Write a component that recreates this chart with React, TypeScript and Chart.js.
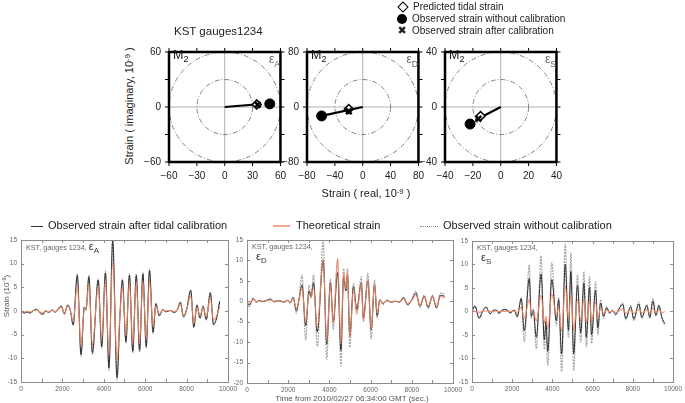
"use client"

import { useEffect, useRef } from "react"
import { Chart, registerables } from "chart.js"

Chart.register(...registerables)

const FONT = "'Liberation Sans', Arial, Helvetica, sans-serif"

// ---- top row: M2 phasors (real, imaginary) in 10^-9 strain
const COMPONENTS = ["A", "D", "S"]
const PHASOR_LIMITS = [60, 80, 40]
const PHASOR_STEPS = [30, 40, 20]
const PHASOR_RINGS = [[30, 60], [40, 80], [20, 40]]
const PREDICTED = [[34.5, 2.8], [-20, -3], [-14.5, -6.6]]
const OBSERVED_RAW = [[48.5, 3.4], [-59, -13], [-22, -12.4]]
const OBSERVED_CAL = [[35.5, 2.4], [-20, -6.2], [-16, -8.5]]
const PHASOR_LINE_END = [[36, 3], [-59, -13], [-18, -9.5]]

// ---- bottom row: strain time series (sec, 10^-9)
const TIME_A = [0, 150, 300, 450, 600, 750, 900, 1050, 1200, 1350, 1500, 1650, 1800, 1950, 2100, 2250, 2380, 2520, 2720, 2900, 3060, 3140, 3280, 3450, 3730, 3900, 4080, 4250, 4430, 4640, 4780, 4900, 5070, 5240, 5400, 5570, 5730, 5890, 6050, 6210, 6380, 6520, 6680, 6850, 7000, 7200, 7400, 7550, 7700, 7850, 8000, 8200, 8350, 8500, 8650, 8800, 8950, 9150, 9300, 9450, 9600]
const CAL_A = [0, -0.4, -0.2, -0.4, 0.1, 0.3, -0.3, -0.7, 0, -0.3, 0.2, -0.2, 0.4, 1.0, -0.6, 1.2, 0.2, -2.9, 7.5, -9.2, 0.8, 0.2, 7.2, -8.8, 6.5, -7.5, 8.0, -12.0, 14.8, -14.0, -1.0, 6.5, -6.5, 7.5, -8.5, 7.5, -8.3, 7.8, -7.5, 8.5, -4.5, 1.5, -1.0, 0.3, -0.2, 0.1, -0.3, 0.2, 1.8, -1.2, 0.2, 4.3, -3.4, 1.2, -1.5, 1.0, -1.8, 3.8, -2.8, -1.5, 2.0]
const THEORY_A = [0, -0.2, -0.1, -0.2, 0.1, 0.2, -0.2, -0.4, 0, -0.2, 0.1, -0.1, 0.3, 0.8, -0.4, 1.0, 0.1, -2.2, 5.5, -7.5, 0.6, 0.2, 5.8, -7.2, 5.2, -6.0, 6.5, -9.5, 10.5, -10.5, -0.8, 5.2, -5.2, 6.0, -7.0, 6.2, -6.8, 6.3, -6.0, 6.5, -3.2, 1.0, -0.6, 0.2, 0, 0.1, -0.1, 0.2, 1.5, -1.0, 0.3, 3.2, -2.6, 0.8, -1.0, 0.8, -1.2, 2.8, -2.0, -1.0, 0.8]
const RAW_A = [0, -0.5, -0.3, -0.5, 0.1, 0.4, -0.3, -0.8, 0, -0.4, 0.2, -0.3, 0.5, 1.1, -0.7, 1.3, 0.2, -3.1, 7.9, -9.6, 0.9, 0.2, 7.6, -9.3, 6.8, -7.9, 8.4, -12.6, 15.2, -14.6, -1.1, 6.8, -6.9, 7.9, -8.9, 7.9, -8.7, 8.2, -7.9, 8.9, -4.8, 1.6, -1.1, 0.3, -0.2, 0.1, -0.3, 0.2, 1.9, -1.3, 0.2, 4.5, -3.6, 1.3, -1.6, 1.1, -1.9, 4.0, -3.0, -1.6, 2.1]

const TIME_D = [0, 100, 300, 450, 600, 750, 900, 1150, 1300, 1500, 1650, 1800, 1950, 2100, 2240, 2400, 2520, 2670, 2850, 3010, 3110, 3230, 3410, 3700, 3870, 4050, 4190, 4400, 4560, 4690, 4800, 4880, 4990, 5170, 5330, 5550, 5650, 5870, 6030, 6190, 6320, 6450, 6600, 6800, 7000, 7200, 7400, 7600, 7800, 8000, 8200, 8400, 8600, 8800, 9000, 9200, 9400, 9600]
const CAL_D = [-0.3, -1.0, 0.6, -0.2, 0.2, -0.1, 0.1, 0.5, -0.1, 0.1, 0, -0.2, 0.2, -0.3, 0.9, -2.3, 0.3, 4.0, -6.0, 2.5, 1.0, 4.5, -7.5, 10.0, -10.5, 4.5, -5.0, 7.0, -12.0, 6.0, 2.5, 6.5, -8.5, 3.5, -2.0, 4.5, -4.0, 5.0, -7.0, 4.0, -3.5, 0.3, -0.6, 0.2, -0.2, 0, -0.2, 0.8, -0.8, 0.3, 2.0, -1.2, 1.2, -1.5, 1.2, -1.5, 1.5, 1.2]
const THEORY_D = [-0.2, -0.6, 0.4, -0.1, 0.1, 0, 0.1, 0.3, 0, 0.1, 0, -0.1, 0.2, -0.2, 0.7, -1.8, 0.2, 3.2, -5.2, 2.0, 0.8, 3.5, -6.5, 10.5, -10.0, 4.2, -5.5, 10.5, -10.5, 7.0, 3.0, 7.2, -9.0, 3.0, -3.2, 4.5, -5.0, 5.2, -7.0, 4.3, -3.0, 0.3, -0.5, 0.1, -0.1, 0, -0.1, 0.6, -0.6, 0.2, 1.6, -1.0, 1.0, -1.2, 1.0, -1.2, 1.2, 0.8]
const RAW_D = [-0.5, -1.3, 0.8, -0.3, 0.2, -0.1, 0.1, 0.6, -0.2, 0.1, 0, -0.3, 0.3, -0.4, 1.1, -3.0, 0.4, 6.4, -9.5, 4.0, 1.5, 6.5, -11.0, 14.6, -14.2, 5.5, -6.9, 10.4, -15.8, 8.0, 3.0, 8.0, -11.3, 4.3, -2.5, 6.0, -4.9, 6.8, -9.3, 5.2, -4.1, 0.5, -0.8, 0.3, -0.3, 0, -0.3, 1.0, -1.0, 0.5, 2.5, -1.5, 1.5, -1.8, 1.5, -1.8, 2.0, 1.8]

const TIME_S = [0, 150, 350, 550, 700, 900, 1050, 1200, 1350, 1500, 1700, 1900, 2100, 2250, 2450, 2600, 2850, 2950, 3050, 3200, 3440, 3600, 3680, 3770, 3970, 4200, 4310, 4460, 4640, 4800, 4920, 5060, 5250, 5410, 5570, 5690, 5850, 5950, 6150, 6260, 6400, 6550, 6700, 6850, 7000, 7150, 7300, 7500, 7650, 7900, 8050, 8300, 8450, 8700, 8850, 9000, 9150, 9300, 9450, 9600]
const CAL_S = [0, 1.2, -1.4, 0.2, 0.9, -0.5, 0.2, 0.3, -0.4, 0.3, 0.4, -0.3, 0.3, -1.1, 2.7, -4.1, 7.0, -1.0, 0.3, -5.5, 8.0, -6.0, -2.0, -8.5, 6.8, -2.0, 2.5, -9.0, 10.0, -4.0, 8.5, -9.0, 5.5, -4.5, 6.0, -5.5, 5.2, -5.0, 4.5, -3.5, 1.8, -1.0, 0.8, -0.3, 0.2, -0.6, 0.4, 1.5, -1.5, 1.0, -1.6, 1.6, -1.2, 1.2, -1.2, 2.2, -0.8, 1.2, -1.3, -2.6]
const THEORY_S = [0, 0, -0.2, 0, 0.1, 0, 0, 0.1, 0, 0, 0, 0, 0.1, -0.2, 0.9, -1.5, 2.5, -0.3, 0.1, -2.0, 3.5, -2.5, -1.0, -3.8, 3.8, -0.8, 1.0, -4.2, 5.5, -1.8, 3.8, -4.0, 2.5, -2.0, 2.8, -2.5, 2.5, -2.2, 2.0, -1.5, 0.7, -0.4, 0.3, -0.1, 0.1, -0.2, 0.1, 0.5, -0.4, 0.3, -0.4, 0.4, -0.3, 0.3, -0.3, 0.6, -0.2, 0.3, -0.3, 0]
const RAW_S = [0, 1.0, -1.5, 0.2, 1.0, -0.5, 0.2, 0.3, -0.4, 0.3, 0.4, -0.3, 0.3, -1.2, 3.0, -6.5, 10.0, -1.5, 0.5, -8.0, 11.8, -8.0, -3.0, -11.5, 10.4, -3.0, 3.0, -12.8, 14.3, -5.5, 12.5, -12.6, 7.8, -6.5, 8.5, -7.5, 7.4, -6.8, 6.3, -5.0, 2.5, -1.5, 1.0, -0.5, 0.3, -0.8, 0.5, 1.8, -1.8, 1.3, -2.0, 2.0, -1.5, 1.5, -1.5, 2.8, -1.0, 1.5, -1.5, -3.0]

const STRAIN_TIMES = [TIME_A, TIME_D, TIME_S]
const STRAIN_CAL = [CAL_A, CAL_D, CAL_S]
const STRAIN_THEORY = [THEORY_A, THEORY_D, THEORY_S]
const STRAIN_RAW = [RAW_A, RAW_D, RAW_S]
const STRAIN_Y_RANGES = [[-15, 15], [-20, 15], [-15, 15]]

// chart-area boxes (page px) for each panel
const TOP_BOXES = [
  { left: 169, top: 46, w: 115, h: 116 },
  { left: 307, top: 46, w: 115, h: 116 },
  { left: 445, top: 46, w: 115, h: 116 },
]
const BOTTOM_BOXES = [
  { left: 21, top: 238, w: 209, h: 144 },
  { left: 247, top: 238, w: 208, h: 145 },
  { left: 472, top: 239, w: 203, h: 143 },
]

const minus = (v: number) => (v < 0 ? "\u2212" + Math.abs(v) : String(v))

function makePhasorDecor(rings: number[]) {
  return {
    id: "phasorDecor",
    beforeDatasetsDraw(chart: any) {
      const { ctx, chartArea: a } = chart
      const x = chart.scales.x
      const y = chart.scales.y
      const x0 = x.getPixelForValue(0)
      const y0 = y.getPixelForValue(0)
      ctx.save()
      ctx.beginPath()
      ctx.rect(a.left, a.top, a.right - a.left, a.bottom - a.top)
      ctx.clip()
      ctx.strokeStyle = "#b0b0b0"
      ctx.lineWidth = 1
      ctx.beginPath()
      ctx.moveTo(x0, a.top)
      ctx.lineTo(x0, a.bottom)
      ctx.moveTo(a.left, y0)
      ctx.lineTo(a.right, y0)
      ctx.stroke()
      ctx.strokeStyle = "#666"
      ctx.lineWidth = 0.8
      ctx.setLineDash([5, 2, 1, 2])
      for (const r of rings) {
        ctx.beginPath()
        ctx.ellipse(x0, y0, x.getPixelForValue(r) - x0, y0 - y.getPixelForValue(r), 0, 0, Math.PI * 2)
        ctx.stroke()
      }
      ctx.restore()
    },
    afterDatasetsDraw(chart: any) {
      const { ctx, chartArea: a } = chart
      const x = chart.scales.x
      const y = chart.scales.y
      ctx.save()
      ctx.strokeStyle = "#000"
      ctx.lineWidth = 1
      ctx.beginPath()
      for (const t of x.ticks) {
        const p = x.getPixelForValue(t.value)
        ctx.moveTo(p, a.top)
        ctx.lineTo(p, a.top - 4)
        ctx.moveTo(p, a.bottom)
        ctx.lineTo(p, a.bottom + 4)
      }
      for (const t of y.ticks) {
        const p = y.getPixelForValue(t.value)
        ctx.moveTo(a.left, p)
        ctx.lineTo(a.left - 4, p)
        ctx.moveTo(a.right, p)
        ctx.lineTo(a.right + 4, p)
      }
      ctx.stroke()
      ctx.lineWidth = 2.5
      ctx.strokeRect(a.left, a.top, a.right - a.left, a.bottom - a.top)
      ctx.restore()
    },
  }
}

const strainFrame = {
  id: "strainFrame",
  afterDatasetsDraw(chart: any) {
    const { ctx, chartArea: a } = chart
    const x = chart.scales.x
    const y = chart.scales.y
    ctx.save()
    ctx.strokeStyle = "#8c8c8c"
    ctx.lineWidth = 1
    ctx.beginPath()
    for (const t of x.ticks) {
      const p = Math.round(x.getPixelForValue(t.value)) + 0.5
      ctx.moveTo(p, a.top)
      ctx.lineTo(p, a.top + 3)
      ctx.moveTo(p, a.bottom)
      ctx.lineTo(p, a.bottom - 3)
    }
    for (const t of y.ticks) {
      const p = Math.round(y.getPixelForValue(t.value)) + 0.5
      ctx.moveTo(a.left, p)
      ctx.lineTo(a.left + 3, p)
      ctx.moveTo(a.right, p)
      ctx.lineTo(a.right - 3, p)
    }
    ctx.stroke()
    ctx.strokeRect(Math.round(a.left) + 0.5, Math.round(a.top) + 0.5, Math.round(a.right - a.left), Math.round(a.bottom - a.top))
    ctx.restore()
  },
}

const Eps = ({ sub, size, color }: { sub: string; size: number; color: string }) => (
  <span style={{ color, fontSize: size, whiteSpace: "nowrap" }}>
    ε<span style={{ fontSize: size * 0.72, position: "relative", top: size * 0.3 }}>{sub}</span>
  </span>
)

function PhasorPlot({ index }: { index: number }) {
  const canvasRef = useRef<HTMLCanvasElement>(null)
  const chartRef = useRef<Chart | null>(null)
  const box = TOP_BOXES[index]
  const padL = 34
  const padT = 8
  const padR = 10
  const padB = 22

  useEffect(() => {
    const canvas = canvasRef.current
    if (!canvas) return
    const lim = PHASOR_LIMITS[index]
    const step = PHASOR_STEPS[index]
    const pt = (p: number[]) => ({ x: p[0], y: p[1] })
    const tickFont = { family: FONT, size: 10 }

    if (chartRef.current) chartRef.current.destroy()
    chartRef.current = new Chart(canvas, {
      type: "scatter",
      data: {
        datasets: [
          {
            data: [{ x: 0, y: 0 }, pt(PHASOR_LINE_END[index])],
            showLine: true,
            borderColor: "#000",
            borderWidth: 2.2,
            pointRadius: 0,
            order: 4,
          },
          {
            data: [pt(OBSERVED_RAW[index])],
            pointStyle: "circle",
            pointRadius: 5,
            pointBackgroundColor: "#000",
            pointBorderColor: "#000",
            order: 3,
          },
          {
            data: [pt(PREDICTED[index])],
            pointStyle: "rectRot",
            pointRadius: 4.5,
            pointBackgroundColor: "#fff",
            pointBorderColor: "#000",
            pointBorderWidth: 1.5,
            order: 2,
          },
          {
            data: [pt(OBSERVED_CAL[index])],
            pointStyle: "crossRot",
            pointRadius: 4,
            pointBorderColor: "#000",
            pointBorderWidth: 2.5,
            order: 1,
          },
        ],
      },
      options: {
        animation: false,
        responsive: true,
        maintainAspectRatio: false,
        layout: { padding: { top: padT, right: padR, left: 0, bottom: 0 } },
        plugins: { legend: { display: false }, tooltip: { enabled: false } },
        scales: {
          x: {
            type: "linear",
            min: -lim,
            max: lim,
            grid: { display: false, drawTicks: false },
            border: { display: false },
            ticks: {
              stepSize: step,
              padding: 8,
              color: "#222",
              font: tickFont,
              maxRotation: 0,
              autoSkip: false,
              callback: (v: any) => minus(Number(v)),
            },
            afterFit: (s: any) => {
              s.height = padB
            },
          },
          y: {
            type: "linear",
            min: -lim,
            max: lim,
            grid: { display: false, drawTicks: false },
            border: { display: false },
            ticks: {
              stepSize: step,
              padding: 8,
              color: "#222",
              font: tickFont,
              autoSkip: false,
              callback: (v: any) => (Math.abs(Number(v)) === step ? "" : minus(Number(v))),
            },
            afterFit: (s: any) => {
              s.width = padL
            },
          },
        },
      },
      plugins: [makePhasorDecor(PHASOR_RINGS[index])],
    } as any)

    return () => {
      if (chartRef.current) {
        chartRef.current.destroy()
        chartRef.current = null
      }
    }
  }, [index])

  return (
    <div
      style={{
        position: "absolute",
        left: box.left - padL,
        top: box.top - padT,
        width: box.w + padL + padR,
        height: box.h + padT + padB,
      }}
    >
      <canvas ref={canvasRef} />
      <div style={{ position: "absolute", left: padL + 4, top: padT + 2, fontSize: 12.5, color: "#111" }}>
        M<span style={{ fontSize: 9, position: "relative", top: 3 }}>2</span>
      </div>
      <div style={{ position: "absolute", right: padR + 4, top: padT + 3 }}>
        <Eps sub={COMPONENTS[index]} size={12} color="#666" />
      </div>
    </div>
  )
}

function StrainPlot({ index }: { index: number }) {
  const canvasRef = useRef<HTMLCanvasElement>(null)
  const chartRef = useRef<Chart | null>(null)
  const box = BOTTOM_BOXES[index]
  const padL = 20
  const padT = 6
  const padR = 10
  const padB = 14

  useEffect(() => {
    const canvas = canvasRef.current
    if (!canvas) return
    const times = STRAIN_TIMES[index]
    const pairs = (vals: number[]) => times.map((t, i) => ({ x: t, y: vals[i] }))
    const [yMin, yMax] = STRAIN_Y_RANGES[index]
    const tickFont = { family: FONT, size: 6.5 }
    const common = { pointRadius: 0, cubicInterpolationMode: "monotone", fill: false }

    if (chartRef.current) chartRef.current.destroy()
    chartRef.current = new Chart(canvas, {
      type: "line",
      data: {
        datasets: [
          {
            label: "Observed strain without calibration",
            data: pairs(STRAIN_RAW[index]),
            borderColor: "#a4a4a4",
            borderWidth: 1.2,
            borderDash: [2, 1],
            order: 3,
            ...common,
          },
          {
            label: "Observed strain after tidal calibration",
            data: pairs(STRAIN_CAL[index]),
            borderColor: "#2b2b2b",
            borderWidth: 1,
            order: 2,
            ...common,
          },
          {
            label: "Theoretical strain",
            data: pairs(STRAIN_THEORY[index]),
            borderColor: "rgba(240,138,105,0.85)",
            borderWidth: 1.2,
            order: 1,
            ...common,
          },
        ],
      },
      options: {
        animation: false,
        responsive: true,
        maintainAspectRatio: false,
        layout: { padding: { top: padT, right: padR, left: 0, bottom: 0 } },
        plugins: { legend: { display: false }, tooltip: { enabled: false } },
        scales: {
          x: {
            type: "linear",
            min: 0,
            max: 10000,
            grid: { display: false, drawTicks: false },
            border: { display: false },
            ticks: {
              stepSize: 1000,
              padding: 3,
              color: "#666",
              font: tickFont,
              maxRotation: 0,
              autoSkip: false,
              callback: (v: any) => (Number(v) % 2000 === 0 ? String(v) : ""),
            },
            afterFit: (s: any) => {
              s.height = padB
            },
          },
          y: {
            type: "linear",
            min: yMin,
            max: yMax,
            grid: { display: false, drawTicks: false },
            border: { display: false },
            ticks: {
              stepSize: 5,
              padding: 4,
              color: "#666",
              font: tickFont,
              autoSkip: false,
              callback: (v: any) => String(v),
            },
            afterFit: (s: any) => {
              s.width = padL
            },
          },
        },
      },
      plugins: [strainFrame],
    } as any)

    return () => {
      if (chartRef.current) {
        chartRef.current.destroy()
        chartRef.current = null
      }
    }
  }, [index])

  const label = "KST, gauges 1234,"
  return (
    <div
      style={{
        position: "absolute",
        left: box.left - padL,
        top: box.top - padT,
        width: box.w + padL + padR,
        height: box.h + padT + padB,
      }}
    >
      <canvas ref={canvasRef} />
      <div
        style={{
          position: "absolute",
          left: padL + 5,
          top: padT + 4,
          fontSize: 7.2,
          color: "#666",
          lineHeight: "9px",
          whiteSpace: "nowrap",
        }}
      >
        {label}
        {index === 0 ? (
          <span> <Eps sub={COMPONENTS[index]} size={11} color="#333" /></span>
        ) : (
          <div style={{ marginLeft: 4, marginTop: 1 }}>
            <Eps sub={COMPONENTS[index]} size={11} color="#333" />
          </div>
        )}
      </div>
    </div>
  )
}

const Sup = ({ children }: { children: string }) => (
  <span style={{ fontSize: "0.7em", position: "relative", top: "-0.45em" }}>{children}</span>
)

export default function App() {
  const abs = { position: "absolute" as const, whiteSpace: "nowrap" as const }
  return (
    <div
      style={{
        position: "fixed",
        left: 0,
        top: 0,
        width: 685,
        height: 403,
        background: "#fff",
        overflow: "hidden",
        fontFamily: FONT,
        color: "#222",
      }}
    >
      {COMPONENTS.map((c, i) => (
        <PhasorPlot key={"p" + c} index={i} />
      ))}
      {COMPONENTS.map((c, i) => (
        <StrainPlot key={"s" + c} index={i} />
      ))}

      {/* top row texts */}
      <div style={{ ...abs, left: 174, top: 25, fontSize: 11.5 }}>KST gauges1234</div>
      <div style={{ ...abs, left: 397, top: 1, fontSize: 10, lineHeight: "12px" }}>
        <div style={{ display: "flex", alignItems: "center", gap: 5 }}>
          <span style={{ width: 6, height: 6, border: "1.5px solid #000", transform: "rotate(45deg)", marginLeft: 2, marginRight: 1 }} />
          Predicted tidal strain
        </div>
        <div style={{ display: "flex", alignItems: "center", gap: 5 }}>
          <span style={{ width: 10, height: 10, borderRadius: 5, background: "#000" }} />
          Observed strain without calibration
        </div>
        <div style={{ display: "flex", alignItems: "center", gap: 5 }}>
          <span style={{ width: 10, textAlign: "center", fontFamily: "'DejaVu Sans'", fontSize: 11, fontWeight: "bold" }}>✖</span>
          Observed strain after calibration
        </div>
      </div>
      <div
        style={{
          ...abs,
          left: 129,
          top: 106,
          fontSize: 11,
          transform: "translate(-50%, -50%) rotate(-90deg)",
        }}
      >
        Strain ( imaginary, 10<Sup>-9</Sup> )
      </div>
      <div style={{ ...abs, left: 366, top: 193, fontSize: 11, transform: "translate(-50%, -50%)" }}>
        Strain ( real, 10<Sup>-9</Sup> )
      </div>

      {/* bottom legend */}
      <div style={{ ...abs, left: 31, top: 226, width: 12, height: 1, background: "#333" }} />
      <div style={{ ...abs, left: 48, top: 219, fontSize: 11 }}>Observed strain after tidal calibration</div>
      <div style={{ ...abs, left: 273, top: 225, width: 17, height: 2, background: "rgba(240,138,105,0.75)" }} />
      <div style={{ ...abs, left: 296, top: 219, fontSize: 11 }}>Theoretical strain</div>
      <div style={{ ...abs, left: 420, top: 226, width: 18, height: 0, borderTop: "1px dotted #8a8a8a" }} />
      <div style={{ ...abs, left: 443, top: 219, fontSize: 11 }}>Observed strain without calibration</div>

      {/* bottom axis titles */}
      <div
        style={{
          ...abs,
          left: 6,
          top: 296,
          fontSize: 8,
          color: "#555",
          transform: "translate(-50%, -50%) rotate(-90deg)",
        }}
      >
        Strain (10<Sup>-9</Sup>)
      </div>
      <div style={{ ...abs, left: 352, top: 398, fontSize: 8, color: "#555", transform: "translate(-50%, -50%)" }}>
        Time from 2010/02/27 06:34:00 GMT (sec.)
      </div>
    </div>
  )
}
